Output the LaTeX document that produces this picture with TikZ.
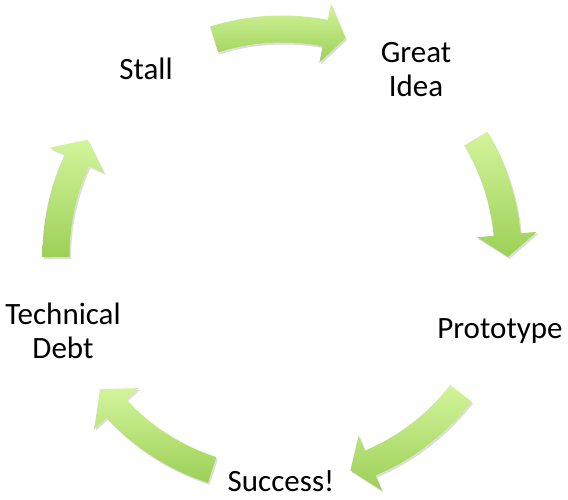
\documentclass[tikz,border=0pt]{standalone}
\usepackage{fontspec}
\setmainfont{Carlito}
\usetikzlibrary{shadows}
\definecolor{arrlight}{HTML}{D3F49B}
\definecolor{arrdark}{HTML}{9CD057}
\tikzset{
  lbl/.style={align=center, font=\fontsize{31}{34}\selectfont, inner sep=0pt, text=black},
  cyclearrow/.style={top color=arrlight, bottom color=arrdark, draw=none,
     drop shadow={shadow xshift=1.5pt, shadow yshift=-2pt, opacity=0.22, fill=black!60}}
}
% #1 tail angle, #2 head-base angle, #3 tip angle
\newcommand{\cyclearr}[3]{%
  \path[cyclearrow] (#1:239.5pt) arc[start angle=#1, end angle=#2, radius=239.5pt]
    -- (#2:256pt) -- (#3:226pt) -- (#2:196pt) -- (#2:212.5pt)
    arc[start angle=#2, end angle=#1, radius=212.5pt] -- cycle;}
\begin{document}
\begin{tikzpicture}[x=1pt,y=1pt]
\useasboundingbox (0,0) rectangle (568,500);
\begin{scope}[shift={(282,245)}]
  \cyclearr{107.5}{79}{73.7}
  \cyclearr{31}{5.2}{-0.5}
  \cyclearr{-37.7}{-67}{-72.4}
  \cyclearr{-108}{-137.2}{-143.6}
  \cyclearr{180.5}{155.2}{149.3}
\end{scope}
\node[lbl, anchor=base] (stall) at (146,420) {Stall};
\node[lbl, anchor=base] (idea) at (416,403) {Great\\Idea};
\node[lbl, anchor=base] (proto) at (500,161) {Prototype};
\node[lbl, anchor=base] (debt) at (63,141) {Technical\\Debt};
\node[lbl, anchor=base] (succ) at (281,8) {Success!};
\end{tikzpicture}
\end{document}
